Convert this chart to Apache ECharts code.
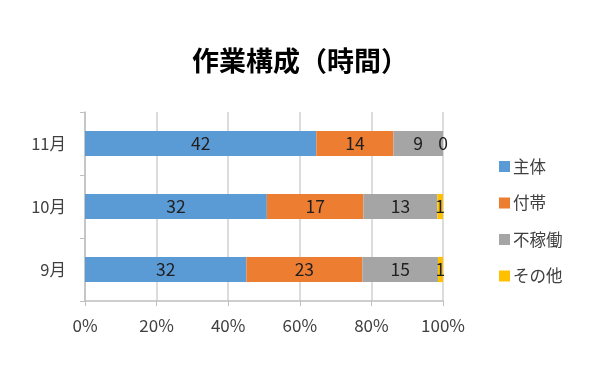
<!DOCTYPE html>
<html><head><meta charset="utf-8">
<script src="https://cdn.jsdelivr.net/npm/echarts@6/dist/echarts.min.js"></script>
<style>html,body{margin:0;padding:0;background:#fff}#c{width:600px;height:369px}</style>
</head><body><div id="c"></div>
<script>
const categories = ['9月', '10月', '11月'];
const seriesNames = ['主体', '付帯', '不稼働', 'その他'];
const shutai = [32, 32, 42];
const futai = [23, 17, 14];
const fukadou = [15, 13, 9];
const sonota = [1, 1, 0];
const xTicks = ['0%', '20%', '40%', '60%', '80%', '100%'];
const colors = ['#5B9BD5', '#ED7D31', '#A5A5A5', '#FFC000'];
const FONT = '"Noto Sans CJK JP", sans-serif';

const raw = [shutai, futai, fukadou, sonota];
const totals = categories.map((_, i) => raw.reduce((s, a) => s + a[i], 0));

const chart = echarts.init(document.getElementById('c'));
chart.setOption({
  animation: false,
  title: {
    text: '作業構成（時間）', left: 'center', top: 42,
    textStyle: { fontFamily: FONT, fontSize: 27, fontWeight: 'bold', color: '#000' }
  },
  legend: {
    orient: 'vertical', left: 494, top: 150, itemGap: 13.5,
    itemWidth: 11, itemHeight: 11, icon: 'rect',
    textStyle: { fontFamily: FONT, fontSize: 16.5, color: '#404040', padding: [0, 0, 0, -2], lineHeight: 23 },
    data: seriesNames
  },
  grid: { left: 85, right: 157, top: 112, bottom: 68 },
  xAxis: {
    type: 'value', min: 0, max: 100, interval: 20,
    axisLine: { show: true, lineStyle: { color: '#bfbfbf', width: 1.5 } },
    axisTick: { show: true, length: 5, lineStyle: { color: '#bfbfbf' } },
    splitLine: { show: true, lineStyle: { color: '#d0d0d0', width: 1.5 } },
    axisLabel: {
      margin: 16, fontFamily: FONT, fontSize: 17, color: '#404040',
      formatter: v => xTicks[v / 20]
    }
  },
  yAxis: {
    type: 'category', data: categories,
    axisLine: { show: true, lineStyle: { color: '#bfbfbf', width: 1.5 } },
    axisTick: { show: true, length: 5, inside: false, lineStyle: { color: '#bfbfbf' } },
    axisLabel: { margin: 19, fontFamily: FONT, fontSize: 16.5, color: '#404040' }
  },
  series: seriesNames.map((name, k) => ({
    name, type: 'bar', stack: 'all', barWidth: '40%',
    itemStyle: { color: colors[k] },
    label: {
      show: true, position: 'inside', fontFamily: FONT, fontSize: 17.5, color: '#202020',
      formatter: p => String(p.data.raw)
    },
    data: raw[k].map((v, i) => ({ value: v / totals[i] * 100, raw: v }))
  })),
  color: colors
});
</script></body></html>
